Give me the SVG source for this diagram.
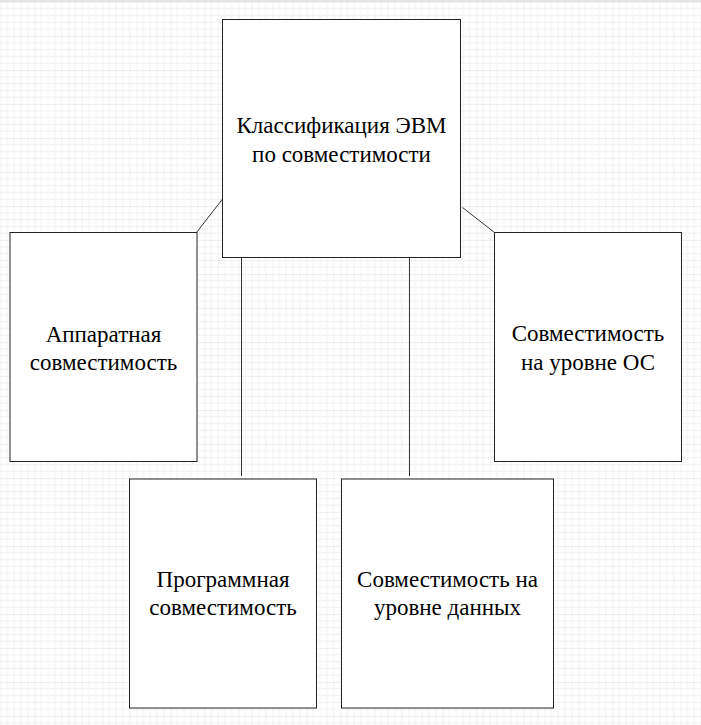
<svg xmlns="http://www.w3.org/2000/svg" width="701" height="725" viewBox="0 0 701 725">
  <defs>
    <pattern id="grid" patternUnits="userSpaceOnUse" x="0.5" y="2" width="34" height="34">
      <path d="M6.8 0V34M13.6 0V34M20.4 0V34M27.2 0V34M0 6.8H34M0 13.6H34M0 20.4H34M0 27.2H34" stroke="#f1f1f1" stroke-width="1" fill="none"/>
      <path d="M0 0V34M0 0H34" stroke="#e2e2e2" stroke-width="1" fill="none"/>
    </pattern>
  </defs>
  <rect x="0" y="0" width="701" height="725" fill="#ffffff"/>
  <rect x="0" y="0" width="701" height="725" fill="url(#grid)"/>
  <line x1="0" y1="1" x2="701" y2="1" stroke="#dddddd" stroke-width="1.5"/>

  <g id="connectors" stroke="#333333" stroke-width="1" fill="none">
    <line x1="222.5" y1="199" x2="196.5" y2="232.5"/>
    <line x1="462.5" y1="207.5" x2="494.5" y2="232.5"/>
    <line x1="241.5" y1="257.5" x2="241.5" y2="476"/>
    <line x1="409.5" y1="257.5" x2="409.5" y2="476"/>
  </g>

  <g id="nodes">
    <g id="root">
      <rect x="222.5" y="19.5" width="238" height="238" fill="#ffffff" stroke="#222222"/>
      <text x="341.5" y="132.5" font-family="Liberation Serif" font-size="23" text-anchor="middle" fill="#000000">Классификация ЭВМ</text>
      <text x="341.5" y="162" font-family="Liberation Serif" font-size="23" text-anchor="middle" fill="#000000">по совместимости</text>
    </g>

    <g id="hardware">
      <rect x="10" y="232.5" width="187" height="229" fill="#ffffff" stroke="#222222"/>
      <text x="103.5" y="341.5" font-family="Liberation Serif" font-size="23" text-anchor="middle" fill="#000000">Аппаратная</text>
      <text x="103.5" y="370" font-family="Liberation Serif" font-size="23" text-anchor="middle" fill="#000000">совместимость</text>
    </g>

    <g id="os">
      <rect x="494.5" y="232.5" width="187" height="229" fill="#ffffff" stroke="#222222"/>
      <text x="588" y="341" font-family="Liberation Serif" font-size="23" text-anchor="middle" fill="#000000">Совместимость</text>
      <text x="588" y="370" font-family="Liberation Serif" font-size="23" text-anchor="middle" fill="#000000">на уровне ОС</text>
    </g>

    <g id="software">
      <rect x="129.5" y="479" width="187" height="229" fill="#ffffff" stroke="#222222"/>
      <text x="223" y="586.5" font-family="Liberation Serif" font-size="23" text-anchor="middle" fill="#000000">Программная</text>
      <text x="223" y="615" font-family="Liberation Serif" font-size="23" text-anchor="middle" fill="#000000">совместимость</text>
    </g>

    <g id="data">
      <rect x="341.5" y="479" width="212" height="229" fill="#ffffff" stroke="#222222"/>
      <text x="447.5" y="586.5" font-family="Liberation Serif" font-size="23" text-anchor="middle" fill="#000000">Совместимость на</text>
      <text x="447.5" y="615" font-family="Liberation Serif" font-size="23" text-anchor="middle" fill="#000000">уровне данных</text>
    </g>
  </g>
</svg>
